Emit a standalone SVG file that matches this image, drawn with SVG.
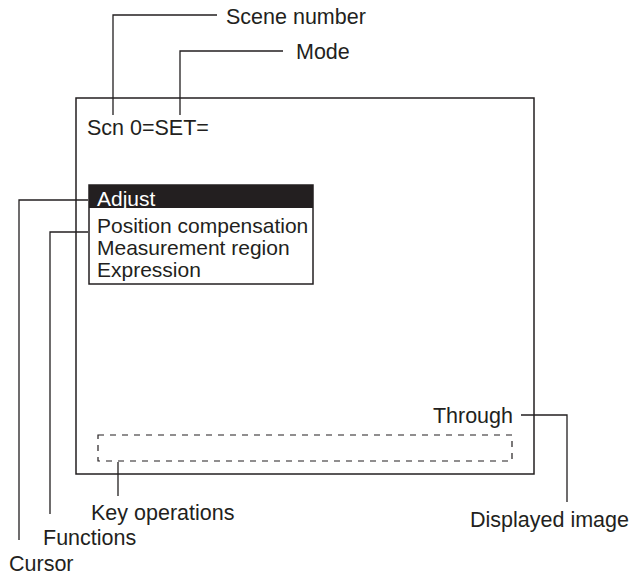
<svg xmlns="http://www.w3.org/2000/svg" width="631" height="575" viewBox="0 0 631 575">
<style>
text{font-family:"Liberation Sans",Arial,sans-serif;font-size:21.5px;fill:#231f20}
.m{font-size:21px}
.ln{fill:none;stroke:#231f20;stroke-width:1.3}
.frame{fill:#fff;stroke:#231f20;stroke-width:1.5}
.dash{fill:none;stroke:#231f20;stroke-width:1.2;stroke-dasharray:6 6}
</style>
<rect width="631" height="575" fill="#fff"/>
<g id="screen">
<rect class="frame" x="76" y="98" width="458" height="376"/>
<text x="87" y="135">Scn 0=SET=</text>
</g>
<g id="menu">
<rect class="frame" x="89" y="185" width="224" height="99"/>
<rect x="89" y="185" width="224" height="23" fill="#231f20"/>
<text class="m" x="97" y="206" style="fill:#fff">Adjust</text>
<text class="m" x="97" y="233">Position compensation</text>
<text class="m" x="97" y="255">Measurement region</text>
<text class="m" x="97" y="277">Expression</text>
</g>
<g id="keyarea">
<rect class="dash" x="98" y="435" width="414" height="26"/>
</g>
<g id="through">
<text x="513" y="423" text-anchor="end">Through</text>
</g>
<g id="connectors">
<polyline class="ln" points="113,115 113,15 217,15"/>
<polyline class="ln" points="180,115 180,51 283,51"/>
<polyline class="ln" points="88,200 19,200 19,540"/>
<polyline class="ln" points="88,232 50,232 50,514"/>
<line class="ln" x1="118" y1="462" x2="118" y2="496"/>
<polyline class="ln" points="521,415 567,415 567,502"/>
</g>
<g id="labels">
<text x="226" y="24">Scene number</text>
<text x="296" y="59">Mode</text>
<text x="91" y="520">Key operations</text>
<text x="43" y="545">Functions</text>
<text x="9" y="571">Cursor</text>
<text x="470" y="527">Displayed image</text>
</g>
</svg>
